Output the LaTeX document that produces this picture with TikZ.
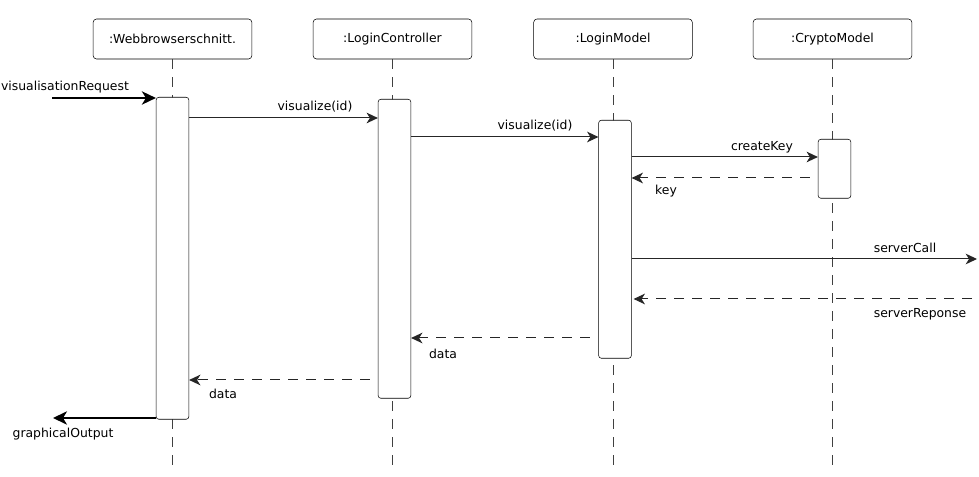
\documentclass[tikz,border=0pt]{standalone}
\usepackage{fontspec}
\setmainfont{DejaVu Sans}
\usetikzlibrary{arrows.meta}
\begin{document}
\begin{tikzpicture}[x=0.75pt,y=-0.75pt,>={Stealth[length=8.5pt,width=8pt,inset=2.5pt]}, font=\fontsize{9.3}{11}\selectfont, line join=round,
	obj/.style={draw,rounded corners=2.5pt,minimum width=119pt,minimum height=30pt,inner sep=0pt},
	act/.style={draw,rounded corners=2pt,fill=white,minimum width=24.5pt,inner sep=0pt,anchor=north},
	life/.style={draw=black!75,dash pattern=on 7.5pt off 6pt},
	call/.style={->,draw=black!85,line width=0.75pt},
	reply/.style={->,draw=black!85,line width=0.75pt,dash pattern=on 7.5pt off 6pt},
	ext/.style={->,line width=1.5pt,>={Stealth[length=10.5pt,width=10pt,inset=3pt]}}]
	\useasboundingbox (0,0) rectangle (979,477);
	% objects
	\node[obj] (wb) at (172.5,39) {:Webbrowserschnitt.};
	\node[obj] (lc) at (392.5,39) {:LoginController};
	\node[obj] (lm) at (613,39) {:LoginModel};
	\node[obj] (cm) at (832.5,39) {:CryptoModel};
	\foreach \o in {wb,lc,lm,cm}
	\draw[life] (\o.south) -- (\o.south |- 0,470);
	% activations
	\node[act,minimum height=241.5pt] (wbA) at (172.5,97) {};
	\node[act,minimum height=224.25pt] (lcA) at (394.5,99) {};
	\node[act,minimum height=178.5pt] (lmA) at (615,120) {};
	\node[act,minimum height=44.25pt] (cmA) at (834.5,139) {};
	\path
	(52,98) coordinate (inReq)
	(53,418) coordinate (outGr)
	(977,259) coordinate (srvCall)
	(972,299) coordinate (srvResp)
	;
	% messages
	\draw[ext] (inReq) -- (wbA.west |- inReq);
	\node (inReqL) at (65,87) {visualisationRequest};
	\draw[call] (wbA.east |- 0,118) -- (lcA.west |- 0,118);
	\node (visA) at (315,107) {visualize(id)};
	\draw[call] (lcA.east |- 0,137) -- (lmA.west |- 0,137);
	\node (visB) at (535,126) {visualize(id)};
	\draw[call] (lmA.east |- 0,157) -- (cmA.west |- 0,157);
	\node (keyC) at (762,147) {createKey};
	\draw[reply] ([xshift=-6pt]cmA.west |- 0,178) -- (lmA.east |- 0,178);
	\node (keyR) at (666,191) {key};
	\draw[call] (lmA.east |- srvCall) -- (srvCall);
	\node (srvCallL) at (905,248) {serverCall};
	\draw[reply] (srvResp) -- ([xshift=1.5pt]lmA.east |- srvResp);
	\node (srvRespL) at (920,314) {serverReponse};
	\draw[reply] ([xshift=-6.5pt]lmA.west |- 0,338) -- (lcA.east |- 0,338);
	\node (dataA) at (443,354) {data};
	\draw[reply] ([xshift=-6pt]lcA.west |- 0,380) -- (wbA.east |- 0,380);
	\node (dataB) at (223,394) {data};
	\draw[ext] (wbA.west |- outGr) -- (outGr);
	\node (outGrL) at (63,434) {graphicalOutput};
\end{tikzpicture}
\end{document}
